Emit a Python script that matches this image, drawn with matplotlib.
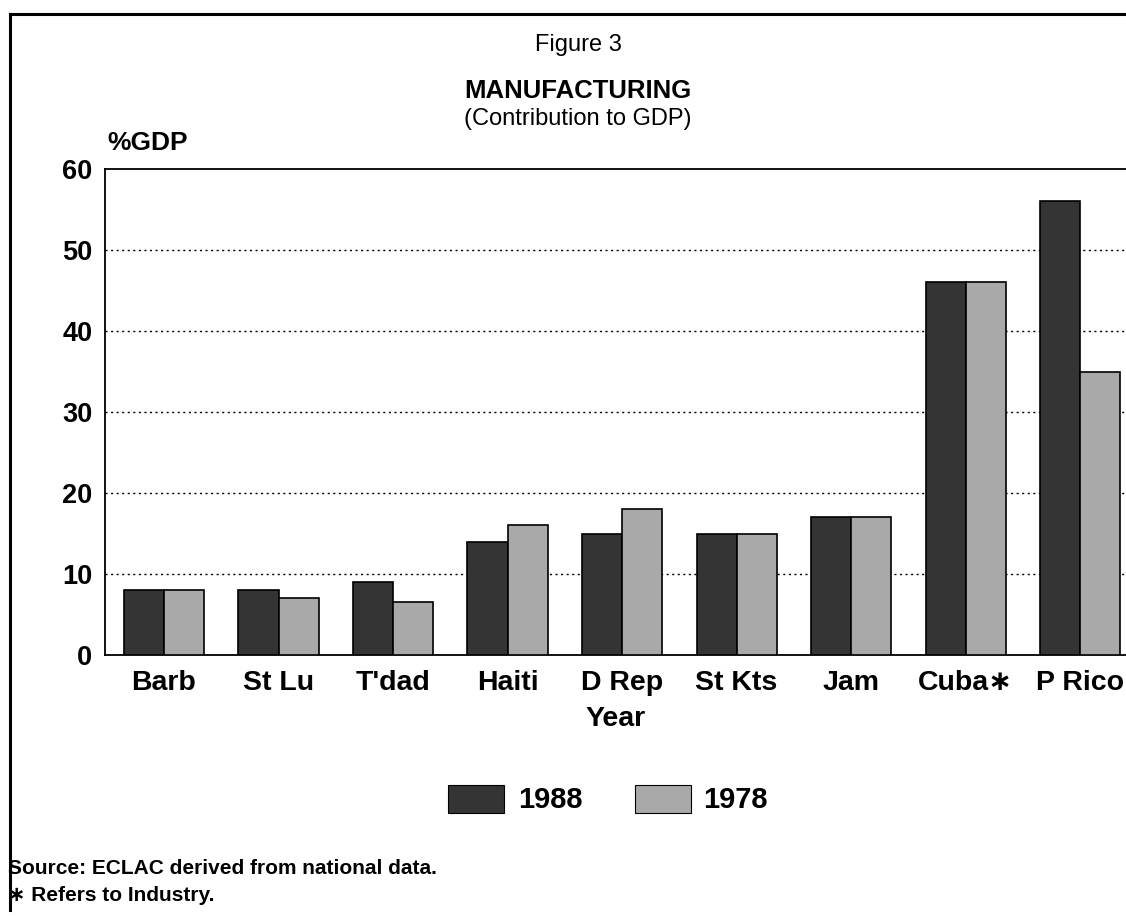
import matplotlib
matplotlib.use("Agg")
import matplotlib.pyplot as plt
import numpy as np
from matplotlib.patches import Rectangle
from matplotlib.lines import Line2D

categories = ["Barb", "St Lu", "T'dad", "Haiti", "D Rep", "St Kts", "Jam", "Cuba\u2217", "P Rico"]
vals_1988 = [8, 8, 9, 14, 15, 15, 17, 46, 56]
vals_1978 = [8, 7, 6.5, 16, 18, 15, 17, 46, 35]
yticks = [0, 10, 20, 30, 40, 50, 60]
series_labels = ["1988", "1978"]

W, H = 1126, 922
fig = plt.figure(figsize=(W / 100, H / 100), dpi=100)
plt.rcParams['font.family'] = ['Liberation Sans', 'DejaVu Sans']

def fx(px):
    return px / W

def fy(py):
    return 1 - py / H

ax_left, ax_right = 105, 1126
ax_top, ax_bot = 169, 655
ax = fig.add_axes([fx(ax_left), fy(ax_bot), fx(ax_right - ax_left), (ax_bot - ax_top) / H])

dark = "#343434"
light = "#a9a9a9"
x = np.arange(len(categories))
bw = 0.35
ax.bar(x - bw / 2, vals_1988, width=bw, color=dark, edgecolor="black", linewidth=1.2, zorder=3)
ax.bar(x + bw / 2, vals_1978, width=bw, color=light, edgecolor="black", linewidth=1.2, zorder=3)

ax.set_xlim(-0.515, 8.40)
ax.set_ylim(0, 60)
ax.set_yticks(yticks)
ax.set_yticklabels([str(t) for t in yticks], fontsize=19.5, fontweight="bold")
ax.set_xticks(x)
ax.set_xticklabels(categories, fontsize=20.5, fontweight="bold")
ax.tick_params(axis="both", length=0)
ax.tick_params(axis="y", pad=9)
ax.tick_params(axis="x", pad=11)
for t in yticks[1:-1]:
    ax.axhline(t, color="black", linestyle=(0, (1.5, 2.5)), linewidth=1.0, zorder=1)
ax.spines["right"].set_visible(False)
for s in ["left", "bottom", "top"]:
    ax.spines[s].set_linewidth(1.3)

ax.set_xlabel("Year", fontsize=20.5, fontweight="bold", labelpad=7)

# y-axis unit label
fig.text(fx(107), fy(143), "%GDP", fontsize=19, fontweight="bold", ha="left", va="center")

# titles
fig.text(fx(578), fy(45), "Figure 3", fontsize=17, ha="center", va="center")
fig.text(fx(578), fy(91), "MANUFACTURING", fontsize=18.5, fontweight="bold", ha="center", va="center")
fig.text(fx(578), fy(119), "(Contribution to GDP)", fontsize=17, ha="center", va="center")

# legend
for (x0, x1, col, lab, tx) in [(448, 504, dark, series_labels[0], 518), (635, 691, light, series_labels[1], 703)]:
    fig.patches.append(Rectangle((fx(x0), fy(813)), fx(x1 - x0), (813 - 785) / H,
                                 transform=fig.transFigure, facecolor=col, edgecolor="black", linewidth=0.8))
    fig.text(fx(tx), fy(800), lab, fontsize=21, fontweight="bold", ha="left", va="center")

# source notes
fig.text(fx(8), fy(868), "Source: ECLAC derived from national data.", fontsize=15, fontweight="bold", ha="left", va="center")
fig.text(fx(8), fy(895), "\u2217 Refers to Industry.", fontsize=15, fontweight="bold", ha="left", va="center")

# page frame (top and left border)
fig.add_artist(Line2D([fx(10), 1.0], [fy(14), fy(14)], transform=fig.transFigure, color="black", linewidth=2.2))
fig.add_artist(Line2D([fx(10), fx(10)], [fy(14), fy(910)], transform=fig.transFigure, color="black", linewidth=2.2))

fig.savefig("out.png", dpi=100)
